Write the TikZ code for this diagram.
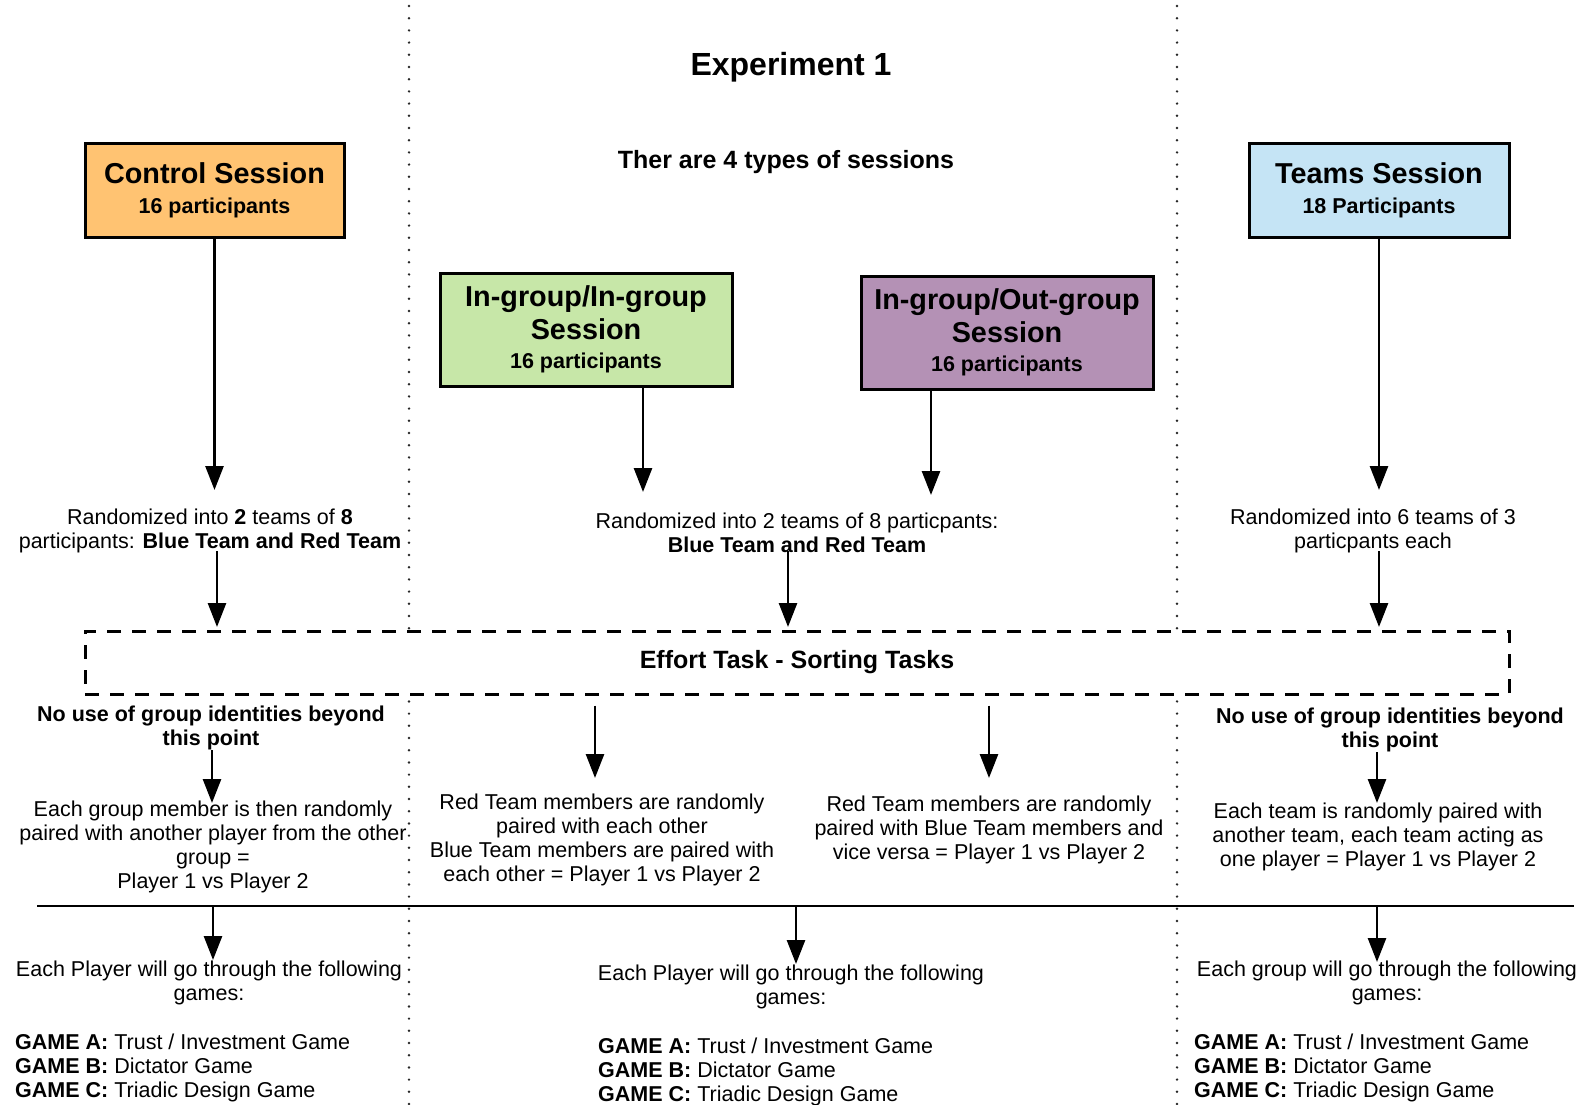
\documentclass[tikz,border=0pt]{standalone}
\usepackage{fontspec}
\setmainfont{Liberation Sans}
\usetikzlibrary{arrows.meta}
\definecolor{corange}{HTML}{FFC372}
\definecolor{cblue}{HTML}{C5E4F5}
\definecolor{cgreen}{HTML}{C7E7A8}
\definecolor{cpurple}{HTML}{B491B5}
\newcommand\mybody{\fontsize{21.5}{24.2}\selectfont}
\newcommand\mytitle{\fontsize{28.8}{32.3}\selectfont\bfseries}
\newcommand\mysub{\fontsize{21.5}{24.2}\selectfont\bfseries}
\begin{document}
\begin{tikzpicture}[x=1pt,y=-1pt,
  sess/.style={draw, line width=3pt, inner sep=0pt, align=center, font=\mytitle},
  txt/.style={inner sep=0pt, align=center, font=\mybody},
  arr/.style={line width=2.7pt, -{Triangle[length=24pt,width=18pt]}},
  dotline/.style={line width=2.7pt, line cap=round, dash pattern=on 0pt off 12.2pt, black!85},
]
\useasboundingbox (0,0) rectangle (1583,1105);
% dotted separators
\coordinate (d1t) at (409,6); \coordinate (d1b) at (409,1105);
\coordinate (d2t) at (1177,6); \coordinate (d2b) at (1177,1105);
\draw[dotline] (d1t) -- (d1b);
\draw[dotline] (d2t) -- (d2b);

% titles
\node[inner sep=0pt, font=\fontsize{32}{36}\selectfont\bfseries] (title) at (791,67) {Experiment 1};
\node[inner sep=0pt, font=\fontsize{25}{28}\selectfont\bfseries] (subtitle) at (786,162) {Ther are 4 types of sessions};

% session boxes
\node[sess, fill=corange, minimum width=259pt, minimum height=93pt] (ctrl) at (214.5,190.5) {Control Session\\[-2pt]{\mysub 16 participants}};
\node[sess, fill=cblue, minimum width=260pt, minimum height=93pt] (teams) at (1379,190.5) {Teams Session\\[-2pt]{\mysub 18 Participants}};
\node[sess, fill=cgreen, minimum width=292pt, minimum height=113pt] (ingin) at (586,329.5) {In-group/In-group\\Session\\[-3pt]{\mysub 16 participants}};
\node[sess, fill=cpurple, minimum width=292pt, minimum height=113pt] (ingout) at (1007,332.5) {In-group/Out-group\\Session\\[-3pt]{\mysub 16 participants}};

% randomization texts
\node[txt] (r1) at (210,531) {Randomized into \textbf{2} teams of \textbf{8}\\participants: \textbf{Blue Team and Red Team}};
\node[txt] (r2) at (797,533) {Randomized into 2 teams of 8 particpants:\\\textbf{Blue Team and Red Team}};
\node[txt] (r3) at (1373,531) {Randomized into 6 teams of 3\\particpants each};

% effort task box
\node[draw, line width=3pt, dash pattern=on 14pt off 11pt, fill=white, minimum width=1424pt, minimum height=63pt, inner sep=0pt, font=\fontsize{25}{28}\selectfont\bfseries] (effort) at (797,662.5) {Effort Task - Sorting Tasks};

% no-use notes
\node[txt, font=\mysub] (nu1) at (211,728) {No use of group identities beyond\\this point};
\node[txt, font=\mysub] (nu2) at (1390,730) {No use of group identities beyond\\this point};

% pairing texts
\node[txt] (p1) at (213,847) {Each group member is then randomly\\paired with another player from the other\\group =\\Player 1 vs Player 2};
\node[txt] (p2) at (602,840) {Red Team members are randomly\\paired with each other\\Blue Team members are paired with\\each other = Player 1 vs Player 2};
\node[txt] (p3) at (989,830) {Red Team members are randomly\\paired with Blue Team members and\\vice versa = Player 1 vs Player 2};
\node[txt] (p4) at (1378,837) {Each team is randomly paired with\\another team, each team acting as\\one player = Player 1 vs Player 2};

% horizontal divider
\coordinate (h1) at (37,906); \coordinate (h2) at (1574,906);
\draw[line width=2.8pt] (h1) -- (h2);

% games
\node[txt] (g1) at (209,983) {Each Player will go through the following\\games:};
\node[txt] (g2) at (791,987) {Each Player will go through the following\\games:};
\node[txt] (g3) at (1387,983) {Each group will go through the following\\games:};
\node[txt, align=left, anchor=west] (l1) at (15,1068) {\textbf{GAME A:} Trust / Investment Game\\\textbf{GAME B:} Dictator Game\\\textbf{GAME C:} Triadic Design Game};
\node[txt, align=left, anchor=west] (l2) at (598,1072) {\textbf{GAME A:} Trust / Investment Game\\\textbf{GAME B:} Dictator Game\\\textbf{GAME C:} Triadic Design Game};
\node[txt, align=left, anchor=west] (l3) at (1194,1068) {\textbf{GAME A:} Trust / Investment Game\\\textbf{GAME B:} Dictator Game\\\textbf{GAME C:} Triadic Design Game};

% arrow tips and starts
\coordinate (t1) at (214.5,490);
\coordinate (t2) at (643,492);
\coordinate (t3) at (931,495);
\coordinate (t4) at (1379,490);
\coordinate (t5) at (217,627);
\coordinate (t6) at (788,627);
\coordinate (t7) at (1379,627);
\coordinate (t8) at (212,803);
\coordinate (t9) at (1377,803);
\coordinate (t10) at (595,778);
\coordinate (t11) at (989,778);
\coordinate (s12) at (213,906); \coordinate (t12) at (213,960);
\coordinate (s13) at (796,906); \coordinate (t13) at (796,964);
\coordinate (s14) at (1377,906); \coordinate (t14) at (1377,962);

\draw[arr] (ctrl.south) -- (t1);
\draw[arr] ([xshift=57pt]ingin.south) -- (t2);
\draw[arr] ([xshift=-76pt]ingout.south) -- (t3);
\draw[arr] (teams.south) -- (t4);
\draw[arr] ([xshift=7pt,yshift=2pt]r1.south) -- (t5);
\draw[arr] ([xshift=-9pt,yshift=2pt]r2.south) -- (t6);
\draw[arr] ([xshift=6pt,yshift=2pt]r3.south) -- (t7);
\draw[arr] ([xshift=1pt]nu1.south) -- (t8);
\draw[arr] ([xshift=-13pt]nu2.south) -- (t9);
\draw[arr] ([xshift=-202pt,yshift=-10pt]effort.south) -- (t10);
\draw[arr] ([xshift=192pt,yshift=-10pt]effort.south) -- (t11);
\draw[arr] (s12) -- (t12);
\draw[arr] (s13) -- (t13);
\draw[arr] (s14) -- (t14);
\end{tikzpicture}
\end{document}
